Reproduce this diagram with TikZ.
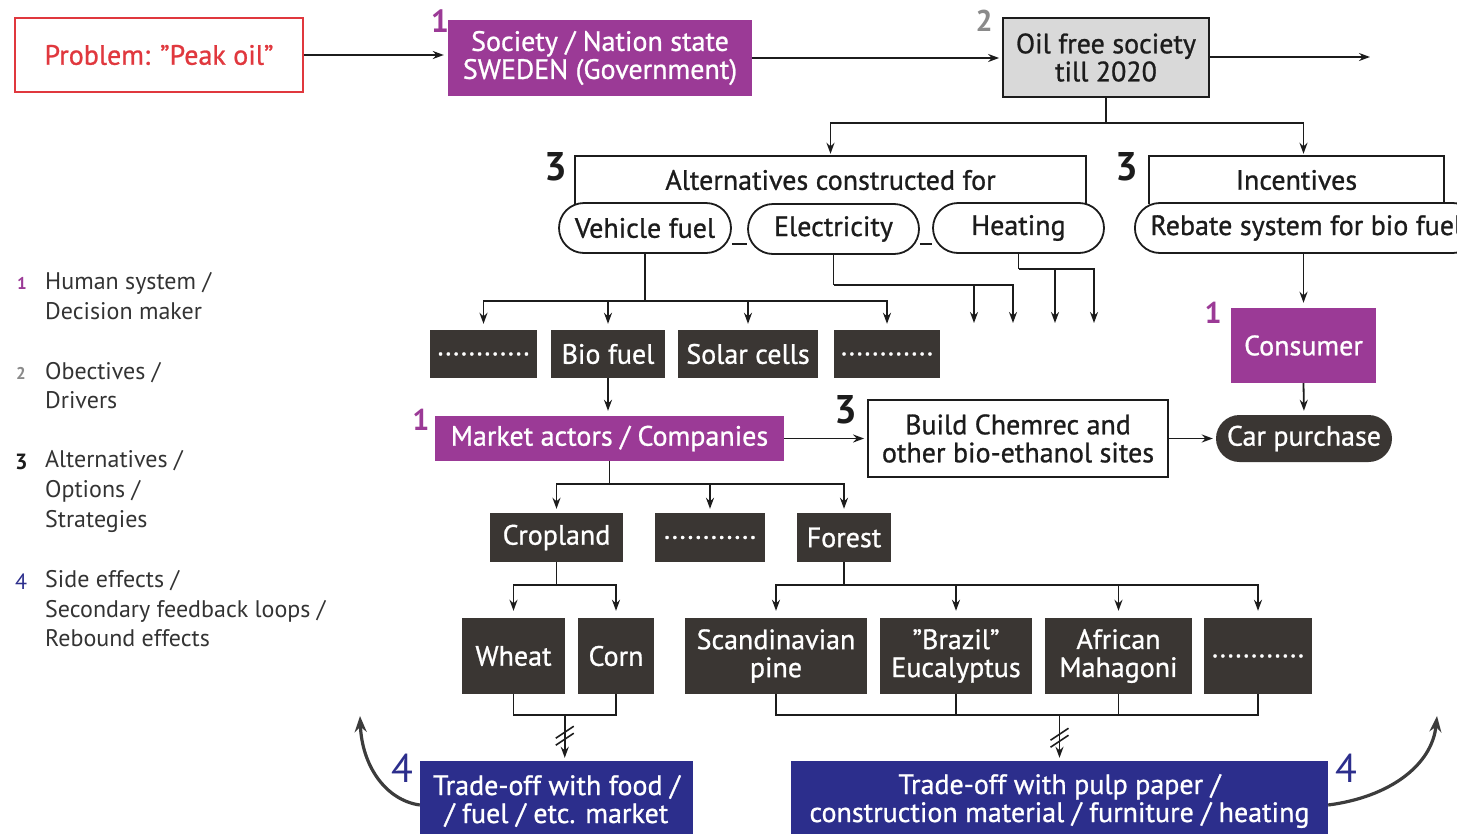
\documentclass[tikz,border=0pt]{standalone}
\usepackage{fontspec}
\setmainfont{PT Sans}
\newfontfamily\medfont{PT Sans}[FakeBold=0.9]
\usetikzlibrary{arrows.meta,shapes.misc,calc,backgrounds}

\definecolor{purp}{HTML}{9B3A96}
\definecolor{navy}{HTML}{2C2E8C}
\definecolor{darkbox}{HTML}{3A3633}
\definecolor{probred}{HTML}{E0383E}
\definecolor{oilgray}{HTML}{D9D9D9}
\definecolor{ink}{HTML}{1C1C1C}
\definecolor{legtext}{HTML}{333333}
\definecolor{numgray}{HTML}{8A8A8A}
\definecolor{loopgray}{HTML}{3C3C3C}

\tikzset{
  every node/.style={font=\medfont\fontsize{28}{28}\selectfont, inner sep=0pt},
  box/.style={rectangle, minimum width=#1, align=center},
  purplebox/.style={box=#1, fill=purp, text=white},
  darkcell/.style={box=#1, fill=darkbox, text=white},
  navybox/.style={box=#1, fill=navy, text=white},
  framebox/.style={box=#1, draw=ink, line width=1.8pt, fill=white, text=ink},
  pill/.style={rounded rectangle, minimum width=#1, minimum height=50pt, draw=ink, line width=1.8pt, fill=white, text=ink},
  ln/.style={draw=ink, line width=1.8pt},
  arr/.style={ln, -{Stealth[length=11pt,width=8pt]}},
  loop/.style={draw=loopgray, line width=3.2pt, -{Stealth[length=16pt,width=12pt]}},
  bignum/.style={font=\fontsize{40}{40}\selectfont\bfseries, text=ink},
  leg/.style={font=\rmfamily\fontsize{24}{26}\selectfont, text=legtext, anchor=base west},
  legnum/.style={font=\rmfamily\fontsize{17}{20}\selectfont\bfseries, anchor=base west},
}

\newcommand\slashmark[1]{%
  \draw[draw=ink, line width=1.6pt] ($(#1)+(-9,0)$) -- ($(#1)+(9,-12)$);
  \draw[draw=ink, line width=1.6pt] ($(#1)+(-9,7)$) -- ($(#1)+(9,-5)$);
}

\begin{document}
\begin{tikzpicture}[x=1pt,y=-1pt]
\useasboundingbox (0,0) rectangle (1457,833);
\clip (0,0) rectangle (1457,833);

% ---------- top row ----------
\node[box=288pt, minimum height=74pt, draw=probred, line width=1.6pt, text=probred] (prob) at (159,55) {Problem: ”Peak oil”};
\node[purplebox=304pt, minimum height=76pt] (soc) at (600,58) {Society / Nation state\\SWEDEN (Government)};
\node[box=206pt, minimum height=79pt, fill=oilgray, draw=ink, line width=1.8pt, text=ink] (oil) at (1106,57.5) {Oil free society\\till 2020};
\coordinate (oilout) at (1370,57);

\node[font=\fontsize{32}{32}\selectfont\bfseries, text=purp] (n1a) at (440,21) {1};
\node[font=\fontsize{30}{30}\selectfont\bfseries, text=numgray] (n2a) at (984,21) {2};

% ---------- alternatives and incentives ----------
\node[box=511pt, minimum height=48pt, text=ink] (alt) at (830.5,180) {Alternatives constructed for};
\node[box=295pt, minimum height=48pt, text=ink] (inc) at (1296.5,180) {Incentives};
\node[bignum] (n3a) at (556,167) {3};
\node[bignum] (n3b) at (1127,167) {3};

\node[pill=172pt] (vf) at (645,228) {Vehicle fuel};
\node[pill=171pt] (el) at (833.5,229) {Electricity};
\node[pill=171pt] (he) at (1018.5,228) {Heating};
\node[rounded rectangle, minimum height=50pt, inner xsep=12pt, draw=ink, line width=1.8pt, fill=white, text=ink, anchor=west] (reb) at (1134,228) {Rebate system for bio fuel};

\coordinate (pillline) at (0,244);
\begin{scope}[on background layer]
  \draw[ln] (alt.south west) -- (alt.north west) -- (alt.north east) -- (alt.south east);
  \draw[ln] (inc.south west) -- (inc.north west) -- (inc.north east) -- (inc.south east);
  \draw[ln] (vf.east |- pillline) -- (el.west |- pillline);
  \draw[ln] (el.east |- pillline) -- (he.west |- pillline);
\end{scope}

% ---------- options row ----------
\node[darkcell=107pt, minimum height=48pt] (d1) at (483.5,354) {............};
\node[darkcell=114pt, minimum height=48pt] (bio) at (608,354) {Bio fuel};
\node[darkcell=140pt, minimum height=48pt] (sol) at (748,354) {Solar cells};
\node[darkcell=106pt, minimum height=48pt] (d2) at (887,354) {............};
\coordinate (e1) at (974,323);
\coordinate (e2) at (1013,323);
\coordinate (h1) at (1055,323);
\coordinate (h2) at (1094,323);

% ---------- consumers and market ----------
\node[purplebox=145pt, minimum height=75pt] (cons) at (1303.5,345.5) {Consumer};
\node[font=\fontsize{30}{30}\selectfont\bfseries, text=purp] (n1c) at (1213,313) {1};
\node[purplebox=349pt, minimum height=45pt] (mkt) at (609.5,438.5) {Market actors / Companies};
\node[font=\fontsize{30}{30}\selectfont\bfseries, text=purp] (n1b) at (421,420) {1};
\node[framebox=300pt, minimum height=77pt] (chem) at (1018,438.5) {Build Chemrec and\\other bio-ethanol sites};
\node[bignum] (n3c) at (846,410) {3};
\node[rounded rectangle, minimum width=176pt, minimum height=47pt, fill=darkbox, text=white] (car) at (1304,438.5) {Car purchase};

% ---------- land use ----------
\node[darkcell=133pt, minimum height=49pt] (crop) at (556.5,537.5) {Cropland};
\node[darkcell=110pt, minimum height=49pt] (d3) at (710,537.5) {............};
\node[darkcell=94pt, minimum height=49pt] (forest) at (844,537.5) {Forest};

\node[darkcell=103pt, minimum height=76pt] (wheat) at (513.5,656) {Wheat};
\node[darkcell=76pt, minimum height=76pt] (corn) at (616,656) {Corn};
\node[darkcell=182pt, minimum height=76pt] (scan) at (776,656) {Scandinavian\\pine};
\node[darkcell=152pt, minimum height=76pt] (braz) at (956,656) {”Brazil”\\Eucalyptus};
\node[darkcell=147pt, minimum height=76pt] (afr) at (1118.5,656) {African\\Mahagoni};
\node[darkcell=108pt, minimum height=76pt] (d4) at (1258,656) {............};

% ---------- side effects ----------
\node[navybox=273pt, minimum height=80pt] (food) at (556.5,801) {Trade-off with food /\\/ fuel / etc. market};
\node[navybox=537pt, minimum height=80pt] (pulp) at (1059.5,801) {Trade-off with pulp paper /\\construction material / furniture / heating};
\node[font=\fontsize{40}{40}\selectfont, text=navy] (n4a) at (402,768) {4};
\node[font=\fontsize{40}{40}\selectfont, text=navy] (n4b) at (1346,768) {4};
\coordinate (loopL) at (360,716);
\coordinate (loopR) at (1437,716);

% ---------- connectors ----------
\draw[arr, shorten >=4pt] (prob.east) -- (prob.east -| soc.west);
\draw[arr, shorten >=3pt] (soc.east) -- (soc.east -| oil.west);
\draw[arr] (oil.east |- oilout) -- (oilout);
\draw[ln] (oil.south) -- ++(0,25) coordinate (oilsplit);
\draw[arr, shorten >=2pt] (oilsplit) -| (alt.north);
\draw[arr, shorten >=2pt] (oilsplit) -| (inc.north -| cons.north);

\draw[ln] (vf.south) -- ++(0,47) coordinate (vfs);
\foreach \t in {d1,bio,sol,d2} \draw[arr, shorten >=6pt] (vfs) -| (\t.north);
\draw[ln] (el.south) -- ++(0,30) coordinate (els);
\draw[arr] (els) -| (e1);
\draw[arr] (els) -| (e2);
\draw[ln] (he.south) -- ++(0,15) coordinate (hes);
\draw[arr] (hes) -| (h1);
\draw[arr] (hes) -| (h2);

\draw[arr, shorten >=5pt] (cons.north |- reb.south) -- (cons.north);
\draw[arr, shorten >=4pt] (cons.south) -- (car.north);
\draw[arr, shorten >=5pt] (bio.south) -- (bio.south |- mkt.north);
\draw[arr, shorten >=3pt] (mkt.east) -- (chem.west);
\draw[arr, shorten >=3pt] (chem.east) -- (car.west);

\draw[ln] (mkt.south) -- ++(0,23) coordinate (ms);
\foreach \t in {crop,d3,forest} \draw[arr, shorten >=4pt] (ms) -| (\t.north);
\draw[ln] (crop.south) -- ++(0,23) coordinate (cs);
\foreach \t in {wheat,corn} \draw[arr, shorten >=7pt] (cs) -| (\t.north);
\draw[ln] (forest.south) -- ++(0,23) coordinate (fs);
\foreach \t in {scan,braz,afr,d4} \draw[arr, shorten >=7pt] (fs) -| (\t.north);

% merging lines into the trade-offs
\draw[ln] (wheat.south) -- ++(0,21) -| (corn.south);
\coordinate (fj) at ($(wheat.south)!0.5!(corn.south)+(0,21)$);
\draw[arr, shorten >=3pt] (fj) -- (fj |- food.north);
\slashmark{$(fj)+(0,23)$}
\draw[ln] (scan.south) -- ++(0,21) -| (d4.south);
\draw[ln] (braz.south) -- ++(0,21);
\draw[ln] (afr.south) -- ++(0,21);
\coordinate (pj) at ($(scan.south)+(0,21)$);
\draw[arr, shorten >=3pt] (pj -| pulp.north) -- (pulp.north);
\slashmark{$(pj -| pulp.north)+(0,25)$}

% feedback loops
\draw[loop] ($(food.west)+(0,4)$) .. controls (385,800) and (362,765) .. (loopL);
\draw[loop] ($(pulp.east)+(0,4)$) .. controls (1390,797) and (1432,765) .. (loopR);

% ---------- legend ----------
\node[legnum, text=purp] (l1) at (17,289) {1};
\node[leg] (l1a) at (45,289) {Human system /};
\node[leg] (l1b) at (45,319) {Decision maker};
\node[legnum, text=numgray] (l2) at (16,379) {2};
\node[leg] (l2a) at (45,379) {Obectives /};
\node[leg] (l2b) at (45,408) {Drivers};
\node[legnum, font=\rmfamily\fontsize{22}{24}\selectfont\bfseries, text=ink] (l3) at (15,469) {3};
\node[leg] (l3a) at (45,467) {Alternatives /};
\node[leg] (l3b) at (45,497) {Options /};
\node[leg] (l3c) at (45,527) {Strategies};
\node[legnum, font=\rmfamily\fontsize{22}{24}\selectfont, text=navy] (l4) at (15,589) {4};
\node[leg] (l4a) at (45,587) {Side effects /};
\node[leg] (l4b) at (45,617) {Secondary feedback loops /};
\node[leg] (l4c) at (45,646) {Rebound effects};
\end{tikzpicture}
\end{document}
